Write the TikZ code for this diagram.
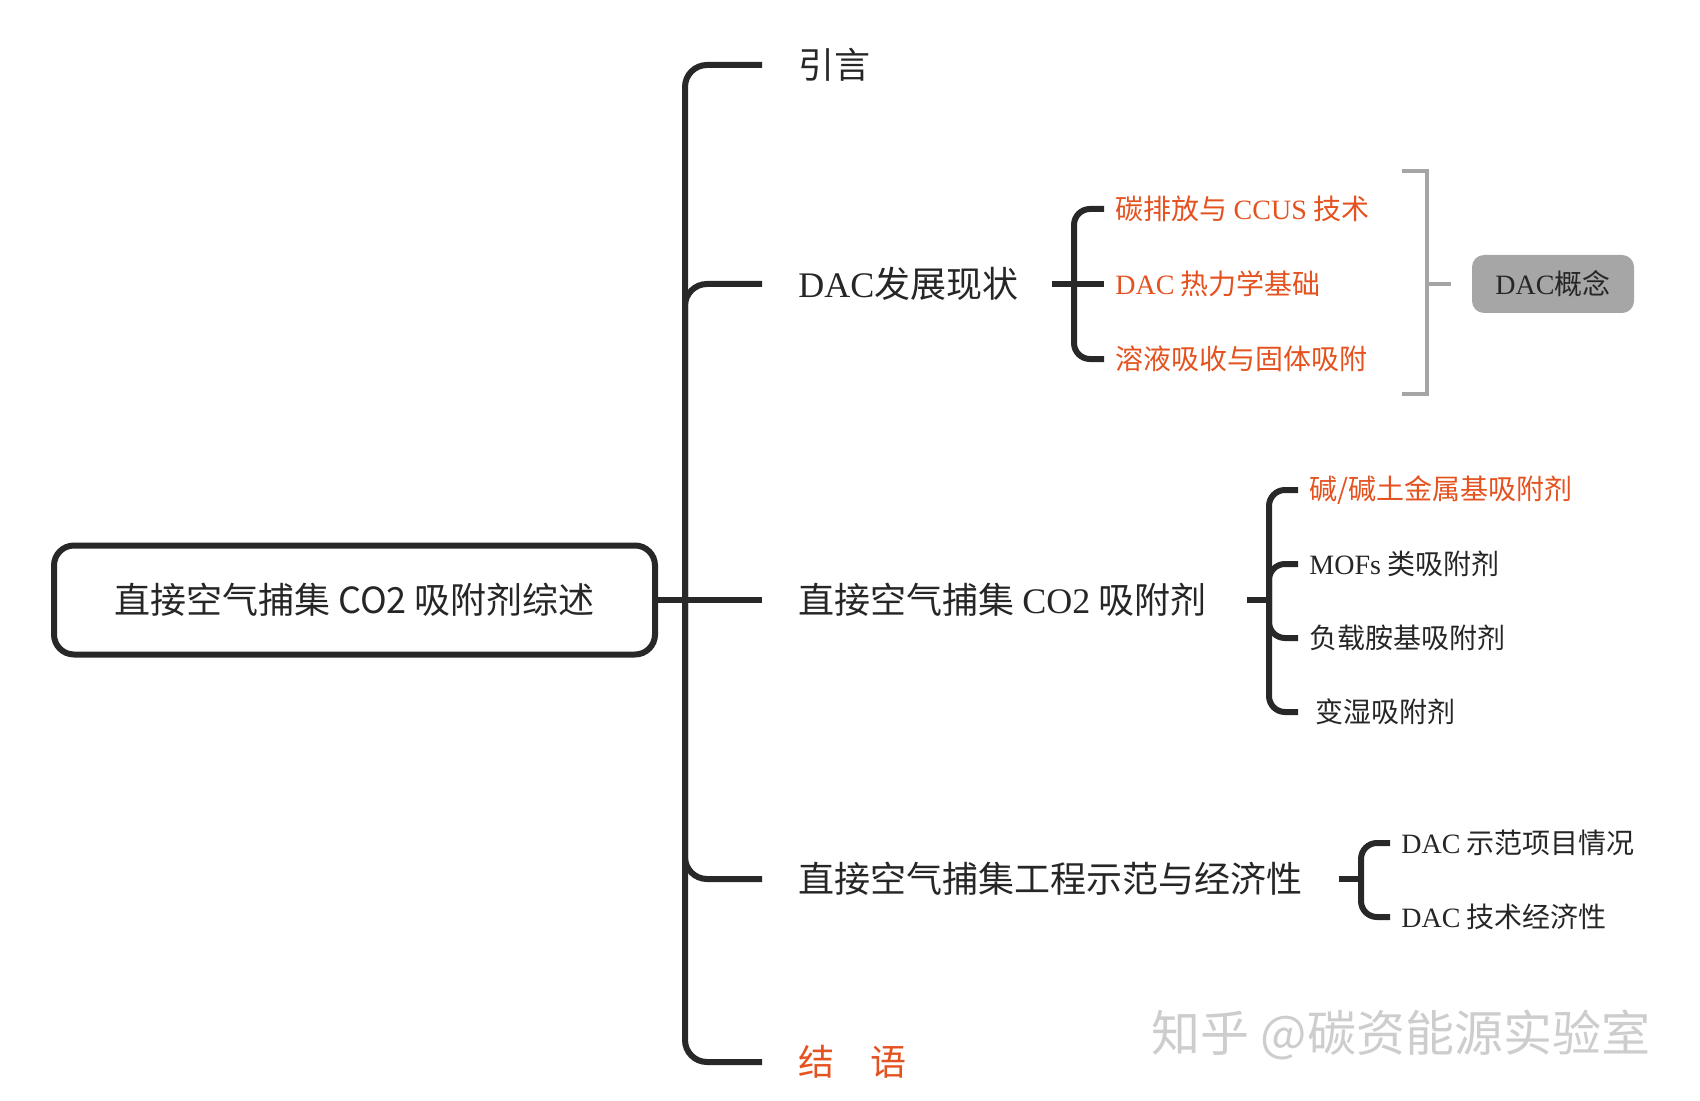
\documentclass[tikz,border=0pt]{standalone}
\usepackage{fontspec}
\setmainfont{Noto Sans CJK SC}
\newfontfamily\latf{Liberation Serif}
\newcommand\lt[1]{{\latf #1}}
\definecolor{linec}{RGB}{40,40,40}
\definecolor{textc}{RGB}{38,38,38}
\definecolor{orangec}{RGB}{228,82,32}
\definecolor{grayln}{RGB}{165,165,165}
\definecolor{grayfill}{RGB}{166,166,166}
\definecolor{wmc}{RGB}{205,205,205}
\begin{document}
\begin{tikzpicture}[x=0.5pt,y=-0.5pt,
  tree/.style={line width=3pt, draw=linec, rounded corners=11pt},
  subl/.style={line width=3pt, draw=linec, rounded corners=8pt},
  rootbox/.style={draw=linec, line width=3pt, rounded corners=10pt, minimum width=300.5pt, minimum height=54.5pt, inner sep=0pt, text=textc, font=\fontsize{18}{21}\selectfont},
  lab/.style={anchor=west, inner xsep=18pt, inner ysep=0pt, text=textc, font=\fontsize{18}{21}\selectfont},
  slab/.style={anchor=west, inner xsep=5.5pt, inner ysep=0pt, text=textc, font=\fontsize{14}{16}\selectfont},
  orng/.style={text=orangec},
  grayb/.style={line width=2pt, draw=grayln},
  concept/.style={fill=grayfill, rounded corners=6pt, minimum width=81pt, minimum height=29pt, inner sep=0pt, text=textc, font=\fontsize{14}{16}\selectfont}
]
\useasboundingbox (0,0) rectangle (1700,1101);

% root
\node[rootbox] (root) at (354.5,600) {直接空气捕集 CO2 吸附剂综述};
\coordinate (J) at (685,600);

% main branches
\node[lab] (b1) at (762,65) {引言};
\node[lab] (b2) at (762,284) {\lt{DAC}发展现状};
\node[lab] (b3) at (762,600) {直接空气捕集 \lt{CO2} 吸附剂};
\node[lab] (b4) at (762,879) {直接空气捕集工程示范与经济性};
\node[lab,orng] (b5) at (762,1062) {结　语};

\draw[tree] (root.east) -- (J);
\draw[tree] (J) |- (b1.west);
\draw[tree] (J) |- (b2.west);
\draw[tree] (J) -- (b3.west);
\draw[tree] (J) |- (b4.west);
\draw[tree] (J) |- (b5.west);

% DAC 发展现状 children
\coordinate (s2) at (1052,284);
\coordinate (j2) at (1074,284);
\node[slab,orng] (c21) at (1104,209) {碳排放与 \lt{CCUS} 技术};
\node[slab,orng] (c22) at (1104,284) {\lt{DAC} 热力学基础};
\node[slab,orng] (c23) at (1104,359) {溶液吸收与固体吸附};
\draw[subl] (s2) -- (j2);
\draw[subl] (j2) |- (c21.west);
\draw[subl] (j2) -- (c22.west);
\draw[subl] (j2) |- (c23.west);

% summary bracket
\coordinate (g1) at (1402,171);
\coordinate (g2) at (1427,171);
\coordinate (g3) at (1427,394);
\coordinate (g4) at (1402,394);
\coordinate (gm) at (1427,284);
\coordinate (ge) at (1451,284);
\draw[grayb] (g1) -- (g2) -- (g3) -- (g4);
\draw[grayb] (gm) -- (ge);
\node[concept] (dc) at (1553,284) {\lt{DAC}概念};

% adsorbents children
\coordinate (s3) at (1247,600);
\coordinate (j3) at (1269,600);
\node[slab,orng] (c31) at (1298,490) {碱/碱土金属基吸附剂};
\node[slab] (c32) at (1298,564) {\lt{MOFs} 类吸附剂};
\node[slab] (c33) at (1298,638) {负载胺基吸附剂};
\node[slab] (c34) at (1298,712) {\hspace{3pt}变湿吸附剂};
\draw[subl] (s3) -- (j3);
\draw[subl] (j3) |- (c31.west);
\draw[subl] (j3) |- (c32.west);
\draw[subl] (j3) |- (c33.west);
\draw[subl] (j3) |- (c34.west);

% engineering children
\coordinate (s4) at (1339,879);
\coordinate (j4) at (1361,879);
\node[slab] (c41) at (1390,843) {\lt{DAC} 示范项目情况};
\node[slab] (c42) at (1390,917) {\lt{DAC} 技术经济性};
\draw[subl] (s4) -- (j4);
\draw[subl] (j4) |- (c41.west);
\draw[subl] (j4) |- (c42.west);

% watermark
\node[text=wmc, font=\fontsize{24.5}{28}\selectfont] (wm) at (1401,1035) {知乎 @碳资能源实验室};
\end{tikzpicture}
\end{document}
